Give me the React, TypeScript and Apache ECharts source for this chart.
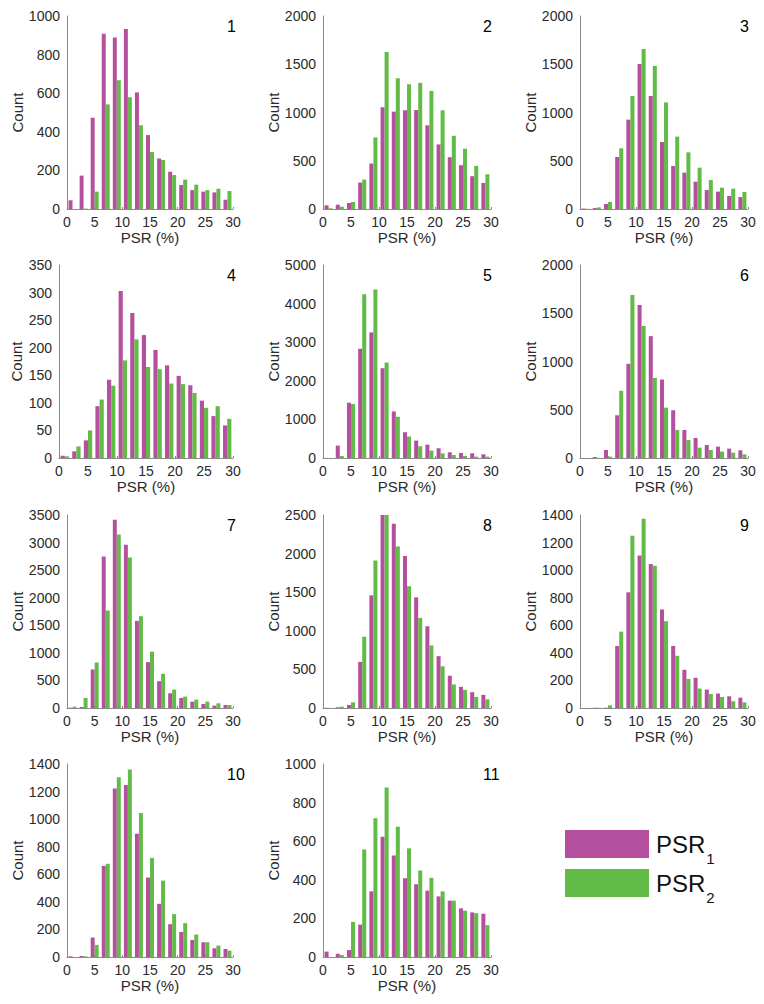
import React, { useEffect, useRef } from 'react';
import * as echarts from 'echarts';

// ---------- data ----------
const bins = [1, 3, 5, 7, 9, 11, 13, 15, 17, 19, 21, 23, 25, 27, 29];
const xTicks = [0, 5, 10, 15, 20, 25, 30];
const panelLabels = ['1', '2', '3', '4', '5', '6', '7', '8', '9', '10', '11'];
const seriesNames = ['PSR1', 'PSR2'];

const p1_psr1 = [45, 173, 473, 908, 888, 933, 604, 383, 262, 193, 124, 98, 90, 86, 48];
const p1_psr2 = [0, 2, 90, 542, 667, 579, 434, 295, 254, 176, 152, 126, 98, 105, 93];
const p2_psr1 = [38, 45, 62, 274, 471, 1054, 1009, 1023, 1026, 867, 669, 537, 454, 340, 270];
const p2_psr2 = [7, 24, 73, 305, 742, 1626, 1355, 1293, 1307, 1224, 1023, 759, 624, 447, 360];
const p3_psr1 = [5, 10, 52, 539, 926, 1503, 1171, 694, 446, 377, 283, 197, 180, 135, 124];
const p3_psr2 = [2, 17, 73, 629, 1171, 1658, 1482, 1105, 750, 587, 428, 300, 221, 211, 176];
const p4_psr1 = [4, 12, 32, 94, 142, 303, 263, 223, 196, 168, 149, 132, 104, 76, 59];
const p4_psr2 = [3, 21, 50, 106, 131, 177, 215, 165, 161, 135, 134, 118, 91, 94, 71];
const p5_psr1 = [2, 321, 1432, 2830, 3255, 2326, 1207, 668, 451, 347, 252, 148, 130, 122, 95];
const p5_psr2 = [0, 52, 1398, 4245, 4366, 2474, 1068, 556, 304, 191, 122, 78, 52, 35, 35];
const p6_psr1 = [0, 10, 83, 443, 976, 1585, 1263, 813, 495, 291, 208, 135, 118, 97, 80];
const p6_psr2 = [0, 2, 14, 696, 1689, 1367, 830, 522, 291, 187, 107, 83, 66, 55, 38];
const p7_psr1 = [6, 18, 699, 2747, 3415, 2959, 1580, 832, 486, 267, 182, 115, 73, 43, 55];
const p7_psr2 = [24, 182, 826, 1768, 3148, 2728, 1665, 1021, 620, 334, 207, 152, 115, 85, 55];
const p8_psr1 = [3, 9, 39, 597, 1459, 2500, 2387, 1969, 1433, 1058, 671, 418, 274, 205, 170];
const p8_psr2 = [0, 17, 74, 923, 1912, 2500, 2091, 1577, 1167, 810, 540, 305, 235, 144, 113];
const p9_psr1 = [0, 2, 2, 450, 839, 1106, 1045, 715, 450, 277, 219, 134, 105, 85, 75];
const p9_psr2 = [0, 2, 19, 554, 1249, 1373, 1031, 630, 379, 211, 141, 102, 80, 49, 41];
const p10_psr1 = [5, 7, 141, 661, 1223, 1247, 894, 576, 386, 238, 182, 124, 107, 63, 58];
const p10_psr2 = [0, 5, 88, 676, 1303, 1361, 1045, 719, 554, 311, 246, 163, 107, 83, 46];
const p11_psr1 = [28, 17, 36, 168, 340, 623, 526, 408, 377, 344, 314, 292, 252, 231, 224];
const p11_psr2 = [0, 10, 182, 557, 719, 878, 675, 563, 448, 410, 340, 292, 240, 227, 165];

const psr1Sets = [p1_psr1, p2_psr1, p3_psr1, p4_psr1, p5_psr1, p6_psr1, p7_psr1, p8_psr1, p9_psr1, p10_psr1, p11_psr1];
const psr2Sets = [p1_psr2, p2_psr2, p3_psr2, p4_psr2, p5_psr2, p6_psr2, p7_psr2, p8_psr2, p9_psr2, p10_psr2, p11_psr2];
const yMaxes = [1000, 2000, 2000, 350, 5000, 2000, 3500, 2500, 1400, 1400, 1000];
const ySteps = [200, 500, 500, 50, 1000, 500, 500, 500, 200, 200, 200];

// ---------- layout ----------
const gridBoxes = [
  [67, 16, 166, 193], [323, 16, 168, 193], [580, 16, 168, 193],
  [59, 265, 174, 193], [323, 265, 168, 193], [580, 265, 168, 193],
  [67, 515, 166, 193], [323, 515, 168, 193], [580, 515, 168, 193],
  [67, 764, 166, 193], [323, 764, 168, 193],
];
const countGaps = [42, 42, 42, 35, 42, 42, 42, 42, 42, 42, 42];
const labelOffsets = [6, 8, 8, 6, 8, 8, 6, 8, 8, 6, 8];

const MAGENTA = '#B5509F';
const GREEN = '#63BB47';
const FONT = '"Liberation Sans", Arial, Helvetica, sans-serif';
const AXIS_GRAY = '#8a8a8a';
const TEXT = '#2a2a2a';

export default function App() {
  const ref = useRef<HTMLDivElement>(null);
  useEffect(() => {
    if (!ref.current) return;
    const chart = echarts.init(ref.current, undefined, { renderer: 'svg' });
    const grid = gridBoxes.map(([l, t, w, h]) => ({ left: l, top: t, width: w, height: h, containLabel: false }));
    const xAxis = gridBoxes.map((_, k) => ({
      type: 'value', gridIndex: k, min: xTicks[0], max: xTicks[xTicks.length - 1], interval: 5,
      axisLine: { show: true, lineStyle: { color: AXIS_GRAY, width: 1 } },
      axisTick: { show: true, inside: true, length: 2, lineStyle: { color: AXIS_GRAY } },
      splitLine: { show: false },
      axisLabel: { fontSize: 14, color: TEXT, fontFamily: FONT, fontWeight: 'normal', margin: 6, formatter: (v: number) => String(v) },
      name: 'PSR (%)', nameLocation: 'middle', nameGap: 21,
      nameTextStyle: { fontSize: 15, color: TEXT, fontFamily: FONT, fontWeight: 'normal' },
    }));
    const yAxis = gridBoxes.map((_, k) => ({
      type: 'value', gridIndex: k, min: 0, max: yMaxes[k], interval: ySteps[k],
      axisLine: { show: true, lineStyle: { color: AXIS_GRAY, width: 1 } },
      axisTick: { show: false },
      splitLine: { show: false },
      axisLabel: { fontSize: 14, color: TEXT, fontFamily: FONT, fontWeight: 'normal', margin: 7, formatter: (v: number) => String(v) },
      name: 'Count', nameLocation: 'middle', nameGap: countGaps[k],
      nameTextStyle: { fontSize: 15, color: TEXT, fontFamily: FONT, fontWeight: 'normal' },
    }));
    const series: any[] = [];
    gridBoxes.forEach((_, k) => {
      [psr1Sets[k], psr2Sets[k]].forEach((vals, s) => {
        series.push({
          type: 'bar', name: seriesNames[s], xAxisIndex: k, yAxisIndex: k,
          data: bins.map((b, i) => [b, vals[i]]),
          barGap: '0%', barCategoryGap: '28%',
          itemStyle: { color: s === 0 ? MAGENTA : GREEN },
        });
      });
    });
    const graphic = gridBoxes.map(([l, t, w], k) => ({
      type: 'text', left: l + w - labelOffsets[k], top: t + 2,
      style: { text: panelLabels[k], fontSize: 16, fontWeight: 'normal', fill: '#000', fontFamily: FONT },
    }));
    chart.setOption({
      animation: false,
      grid, xAxis, yAxis, series, graphic,
      legend: {
        data: seriesNames, orient: 'vertical', left: 565, top: 830, padding: 0,
        itemWidth: 84, itemHeight: 28, itemGap: 3.5, icon: 'rect', selectedMode: false,
        formatter: (n: string) => (n === 'PSR1' ? '{a|PSR}{b|1}' : '{a|PSR}{b|2}'),
        textStyle: {
          fontFamily: FONT, color: '#111',
          rich: {
            a: { fontSize: 24, lineHeight: 23, verticalAlign: 'top', fontFamily: FONT, color: '#111', padding: [0, 0, 0, 2] },
            b: { fontSize: 15, lineHeight: 15, verticalAlign: 'top', fontFamily: FONT, color: '#111', padding: [18, 0, 0, 1] },
          },
        },
      },
    });
    return () => chart.dispose();
  }, []);
  return <div ref={ref} style={{ position: 'absolute', left: 0, top: 0, width: 764, height: 1004 }} />;
}
